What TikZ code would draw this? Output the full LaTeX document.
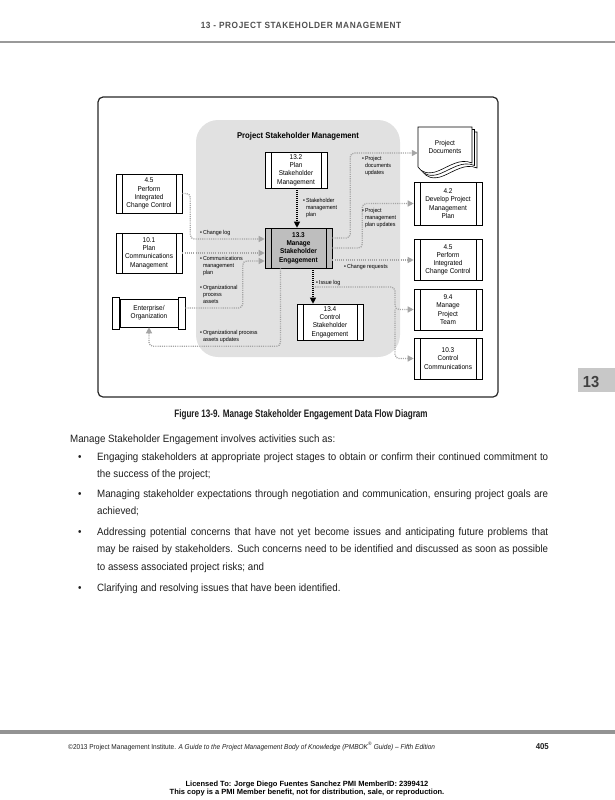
\documentclass[tikz,border=0pt]{standalone}
\usepackage{fontspec}
\setmainfont{Liberation Sans}[FakeStretch=0.92]
\newfontfamily\condb{Liberation Sans}[FakeStretch=0.75]
\newfontfamily\plainsans{Liberation Sans}
\usetikzlibrary{arrows.meta,calc}
\definecolor{flowgray}{RGB}{165,165,165}
\definecolor{regiongray}{RGB}{225,225,225}
\definecolor{mgray}{RGB}{190,190,190}
\definecolor{headgray}{RGB}{80,80,80}
\definecolor{tabgray}{RGB}{200,200,200}
\definecolor{txt}{RGB}{30,30,30}
\newcommand\bl[1]{\textbullet\,\begin{tabular}[t]{@{}l@{}}#1\end{tabular}}
\newcommand\jl[1]{\makebox[451pt][s]{#1}}
\tikzset{
  procbox/.style={draw, line width=0.6pt, fill=white, minimum width=66pt, minimum height=40pt,
    inner sep=1pt, align=center, font=\fontsize{7}{8.2}\selectfont,
    path picture={
      \draw[line width=0.6pt] ([xshift=6pt]path picture bounding box.north west) -- ([xshift=6pt]path picture bounding box.south west);
      \draw[line width=0.6pt] ([xshift=-6pt]path picture bounding box.north east) -- ([xshift=-6pt]path picture bounding box.south east);
    }},
  flow/.style={draw=flowgray, line width=1.3pt, dash pattern=on 1.1pt off 1.1pt, rounded corners=4pt,
    -{Triangle[length=6pt,width=6pt]}},
  dflow/.style={draw=black, line width=1.1pt, dash pattern=on 1pt off 1pt,
    -{Triangle[length=6pt,width=6pt]}},
  lab/.style={anchor=north west, inner sep=0pt, align=left, font=\fontsize{5.8}{7}\selectfont},
  bodyline/.style={anchor=base west, inner sep=0pt, font=\fontsize{10.6}{12}\selectfont, text=txt},
}
\begin{document}
\begin{tikzpicture}[x=1pt,y=-1pt]
\useasboundingbox (0,0) rectangle (615,800);
% header
\node[anchor=base, inner sep=0pt, text=headgray, font=\fontsize{9}{10}\selectfont\bfseries\addfontfeatures{LetterSpace=6.5}] (head) at (301,29) {13 - PROJECT STAKEHOLDER MANAGEMENT};
\draw[line width=2pt, color=gray!80] (0,42) -- (615,42);

% frame and region
\draw[line width=1.2pt, draw=black!85, rounded corners=5pt] (98,97) rectangle (498,397);
\fill[regiongray, rounded corners=22pt] (196,120) rectangle (400,357);
\node[font=\fontsize{8.4}{9}\selectfont\bfseries] (title) at (298,136) {Project Stakeholder Management};

% process boxes
\node[procbox, minimum width=62pt, minimum height=36pt] (p132) at (296,170) {13.2\\Plan\\Stakeholder\\Management};
\node[procbox, fill=mgray, minimum width=67pt, minimum height=40pt, font=\fontsize{7}{8.2}\selectfont\bfseries] (p133) at (298.5,248) {13.3\\Manage\\Stakeholder\\Engagement};
\node[procbox, minimum width=66pt, minimum height=36pt] (p134) at (330,322) {13.4\\Control\\Stakeholder\\Engagement};

\node[procbox, minimum height=39pt] (lpic) at (149,193.5) {4.5\\Perform\\Integrated\\Change Control};
\node[procbox] (lplan) at (149,253) {10.1\\Plan\\Communications\\Management};
\node[draw, line width=0.6pt, fill=white, minimum width=58pt, minimum height=28pt, inner sep=1pt, align=center, font=\fontsize{7}{8.2}\selectfont] (ent) at (149,313) {Enterprise/\\Organization};
\draw[line width=0.6pt, fill=white] ($(ent.west)+(-7,-16)$) rectangle ($(ent.west)+(0,16)$);
\draw[line width=0.6pt, fill=white] ($(ent.east)+(0,-16)$) rectangle ($(ent.east)+(7,16)$);

\node[procbox, minimum width=68pt, minimum height=43pt] (p42) at (448,203.5) {4.2\\Develop Project\\Management\\Plan};
\node[procbox, minimum width=68pt, minimum height=41pt] (r45) at (448,260) {4.5\\Perform\\Integrated\\Change Control};
\node[procbox, minimum width=68pt, minimum height=41pt] (p94) at (448,309.5) {9.4\\Manage\\Project\\Team};
\node[procbox, minimum width=68pt, minimum height=41pt] (p103) at (448,358.5) {10.3\\Control\\Communications};

% project documents (stacked pages)
\foreach \d in {5,2.5}{
  \draw[line width=0.6pt, fill=white] (418+\d,127+\d) -- (472+\d,127+\d) -- (472+\d,163+\d)
    .. controls (460+\d,158+\d) and (450+\d,166+\d) .. (438+\d,171+\d)
    .. controls (428+\d,175+\d) and (421+\d,172+\d) .. (418+\d,167+\d) -- cycle;
}
\draw[line width=0.6pt, fill=white] (418,127) -- (472,127) -- (472,163)
    .. controls (460,158) and (450,166) .. (438,171)
    .. controls (428,175) and (421,172) .. (418,167) -- cycle;
\node[inner sep=0pt, align=center, font=\fontsize{7}{8.2}\selectfont, minimum width=54pt, minimum height=30pt] (docs) at (445,147) {Project\\Documents};

% connectors into 13.3
\draw[flow] (lpic.east) -- ++(8,0) |- ($(p133.west)+(0,-9)$);
\draw[flow] (lplan.east) -- (lplan.east -| p133.west);
\draw[flow] ($(ent.east)+(7,-5)$) -| ($(p133.west)+(-22,13)$) -- ($(p133.west)+(0,13)$);
\draw[flow] ($(p133.south)+(-18,0)$) -- ++(0,78) -| (ent.south);

% connectors out of 13.3
\draw[flow] ($(p133.east)+(0,-10)$) -- ++(18,0) |- ($(docs.west)+(0,6)$);
\draw[flow] (p133.east) -- ++(30,0) |- (p42.west);
\draw[flow] ($(p133.east)+(0,12)$) -- (r45.west);

% dark arrows
\draw[dflow] (p132.south -| 297,0) -- (p133.north -| 297,0);
\coordinate (il) at (313,287);
\coordinate (bx) at (395,0);
\draw[dflow] (p133.south -| il) -- (p134.north -| il);
\draw[flow] (il) -- (il -| bx) |- (p94.west);
\draw[flow] (bx |- p94.west) |- (p103.west);

% labels
\node[lab] (l1) at (303,197) {\bl{Stakeholder\\management\\plan}};
\node[lab] (l2) at (200,229) {\bl{Change log}};
\node[lab] (l3) at (200,255) {\bl{Communications\\management\\plan}};
\node[lab] (l4) at (200,284) {\bl{Organizational\\process\\assets}};
\node[lab] (l5) at (200,329) {\bl{Organizational process\\assets updates}};
\node[lab] (l6) at (316,279) {\bl{Issue log}};
\node[lab] (l7) at (362,155) {\bl{Project\\documents\\updates}};
\node[lab] (l8) at (362,207) {\bl{Project\\management\\plan updates}};
\node[lab] (l9) at (344,263) {\bl{Change requests}};

% side tab
\fill[tabgray] (578,368) rectangle (615,392);
\node[anchor=base, inner sep=0pt, text=black!75, font=\fontsize{16}{18}\selectfont\bfseries] (tabtxt) at (591,387) {13};

% caption and body
\node[anchor=base, inner sep=0pt, text=txt, font=\condb\fontsize{10.8}{12}\selectfont\bfseries] (cap) at (301,417) {Figure 13-9. Manage Stakeholder Engagement Data Flow Diagram};
\node[bodyline] (b0) at (70,442) {Manage Stakeholder Engagement involves activities such as:};
\foreach \yy in {460,497.5,535.5,591.5}{\node[bodyline] at (78,\yy) {\textbullet};}
\node[bodyline] (b1) at (97,460) {\jl{Engaging stakeholders at appropriate project stages to obtain or confirm their continued commitment to}};
\node[bodyline] (b2) at (97,477) {the success of the project;};
\node[bodyline] (b3) at (97,497.5) {\jl{Managing stakeholder expectations through negotiation and communication, ensuring project goals are}};
\node[bodyline] (b4) at (97,514.5) {achieved;};
\node[bodyline] (b5) at (97,535.5) {\jl{Addressing potential concerns that have not yet become issues and anticipating future problems that}};
\node[bodyline] (b6) at (97,552.5) {\jl{may be raised by stakeholders. Such concerns need to be identified and discussed as soon as possible}};
\node[bodyline] (b7) at (97,570) {to assess associated project risks; and};
\node[bodyline] (b8) at (97,591.5) {Clarifying and resolving issues that have been identified.};

% footer
\draw[line width=4pt, color=gray!85] (0,732) -- (615,732);
\node[anchor=base west, inner sep=0pt, text=txt, font=\fontsize{7.1}{8}\selectfont] (foot) at (68,749) {\textcopyright 2013 Project Management Institute. \textit{A Guide to the Project Management Body of Knowledge (PMBOK\textsuperscript{\textregistered} Guide) – Fifth Edition}};
\node[anchor=base east, inner sep=0pt, text=txt, font=\fontsize{8.5}{9}\selectfont\bfseries] (pg) at (549,749) {405};
\node[anchor=base, inner sep=0pt, font=\plainsans\fontsize{7.5}{8}\selectfont\bfseries] (lic1) at (307,786) {Licensed To: Jorge Diego Fuentes Sanchez PMI MemberID: 2399412};
\node[anchor=base, inner sep=0pt, font=\plainsans\fontsize{7.5}{8}\selectfont\bfseries] (lic2) at (307,794) {This copy is a PMI Member benefit, not for distribution, sale, or reproduction.};
\end{tikzpicture}
\end{document}
